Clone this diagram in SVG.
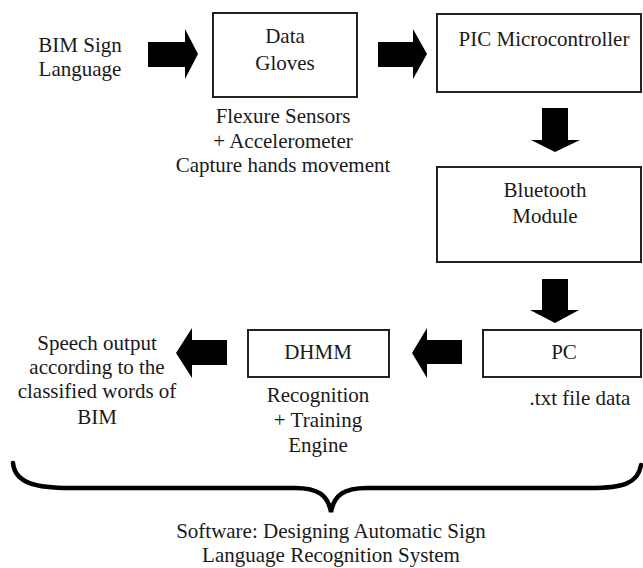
<svg xmlns="http://www.w3.org/2000/svg" width="643" height="568" viewBox="0 0 643 568">
<style>
.box{fill:#fff;stroke:#222;stroke-width:2}
.t{font-size:21px;fill:#1a1a1a;text-anchor:middle}
.arr{fill:#000}
.brace{fill:none;stroke:#000;stroke-width:4.5;stroke-linecap:round}
</style>
<rect width="643" height="568" fill="#fff"/>
<g font-family="'Liberation Serif', 'Times New Roman', serif">
<g id="input">
<text class="t" x="80" y="52">BIM Sign</text>
<text class="t" x="80" y="76">Language</text>
</g>
<g id="gloves">
<rect class="box" x="213" y="13" width="144" height="84"/>
<text class="t" x="285" y="43">Data</text>
<text class="t" x="285" y="70">Gloves</text>
<text class="t" x="283" y="123">Flexure Sensors</text>
<text class="t" x="283" y="148">+ Accelerometer</text>
<text class="t" x="283" y="172">Capture hands movement</text>
</g>
<g id="pic">
<rect class="box" x="437" y="14" width="204" height="78"/>
<text class="t" x="544" y="46">PIC Microcontroller</text>
</g>
<g id="bluetooth">
<rect class="box" x="437" y="167" width="204" height="95"/>
<text class="t" x="545" y="197">Bluetooth</text>
<text class="t" x="545" y="223">Module</text>
</g>
<g id="pc">
<rect class="box" x="483" y="330" width="158" height="47"/>
<text class="t" x="564" y="359">PC</text>
<text class="t" x="580" y="405">.txt file data</text>
</g>
<g id="dhmm">
<rect class="box" x="248" y="330" width="141" height="47"/>
<text class="t" x="318" y="359">DHMM</text>
<text class="t" x="318" y="402">Recognition</text>
<text class="t" x="318" y="427">+ Training</text>
<text class="t" x="318" y="452">Engine</text>
</g>
<g id="output">
<text class="t" x="97" y="350">Speech output</text>
<text class="t" x="97" y="374">according to the</text>
<text class="t" x="97" y="398">classified words of</text>
<text class="t" x="97" y="424">BIM</text>
</g>
<g id="software">
<text class="t" x="331" y="538">Software: Designing Automatic Sign</text>
<text class="t" x="331" y="562">Language Recognition System</text>
</g>
</g>
<g id="connectors">
<polygon class="arr" points="148,42 185,42 185,29 198,54 185,79 185,67 148,67"/>
<polygon class="arr" points="378,42 413,42 413,29 427,54 413,79 413,67 378,67"/>
<polygon class="arr" points="542,108 568,108 568,140 580,140 555,152 531,140 542,140"/>
<polygon class="arr" points="542,279 568,279 568,310 579,310 555,323 530,310 542,310"/>
<polygon class="arr" points="462,340 427,340 427,328 412,353 427,378 427,364 462,364"/>
<polygon class="arr" points="227,340 192,340 192,328 176,353 192,378 192,365 227,365"/>
<path class="brace" d="M13,463 C15,484 38,488 70,488 L295,488 C318,488 328,495 331,512 C334,495 344,488 367,488 L590,488 C622,488 638,484 641,465"/>
</g>
</svg>
